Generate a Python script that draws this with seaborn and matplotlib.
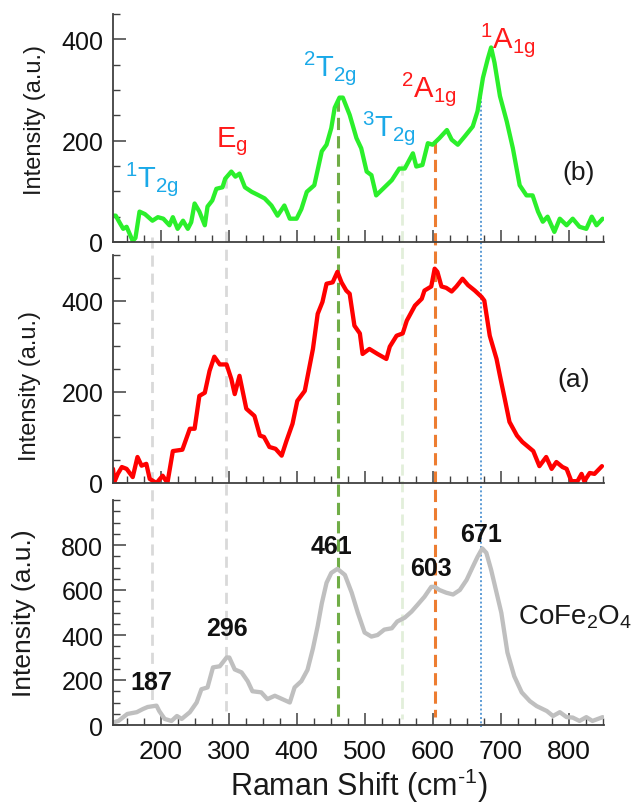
import numpy as np
import pandas as pd
import matplotlib
matplotlib.use("Agg")
import matplotlib.pyplot as plt
import seaborn as sns

# ---------------- data ----------------
b_x = [130,134,139,145,150,159,163,169,177,188,196,204,213,218,225,233,240,245,250,257,265,269,276,282,291,295,304,310,316,324,334,343,353,363,372,382,390,400,407,415,426,437,444,451,456,463,468,478,488,495,503,510,517,527,540,551,559,571,576,585,593,600,610,621,628,637,647,659,666,674,681,686,691,699,709,718,728,738,747,755,762,769,779,787,797,806,816,826,834,841,850]
b_y = [52,52,40,26,30,2,8,60,55,42,49,46,33,49,26,42,26,39,76,60,33,70,82,105,108,125,139,129,135,108,99,93,86,72,52,72,46,46,65,99,112,179,192,225,265,285,285,251,205,185,139,132,92,105,122,145,145,175,149,152,195,192,205,221,202,192,208,228,258,324,361,384,354,288,238,185,112,92,92,60,40,50,20,46,33,46,30,26,50,33,46]

a_x = [130,132,137,143,150,159,166,172,179,184,194,203,210,218,232,243,250,257,265,272,279,287,297,304,309,316,326,338,346,352,360,369,378,385,394,401,412,424,431,438,444,453,460,466,473,478,485,493,497,507,519,532,537,547,556,562,574,584,588,598,603,607,613,620,628,635,644,652,662,672,676,684,694,699,706,713,724,732,748,757,767,775,782,791,797,804,813,819,823,831,838,849]
a_y = [31,2,20,35,31,13,57,38,42,9,0,16,0,70,73,119,119,191,198,246,277,260,260,228,195,235,163,147,104,101,79,75,60,92,130,180,202,294,371,397,437,440,463,440,422,415,345,328,283,294,283,272,299,323,328,356,389,404,422,431,470,463,431,428,420,431,448,434,422,408,400,323,272,235,185,134,104,90,70,37,57,31,46,35,31,4,4,20,4,22,20,37]

c_x = [132,138,151,165,174,181,194,198,206,216,224,231,243,253,260,269,277,287,297,301,309,319,328,335,348,357,368,379,390,397,407,416,424,431,437,444,451,460,471,481,490,500,510,519,529,540,548,559,569,578,588,598,603,610,620,630,640,650,659,666,673,679,686,694,701,710,720,731,743,753,768,777,787,797,806,816,826,835,843,850]
c_y = [13,18,49,57,71,80,86,62,27,18,40,27,57,100,159,167,256,261,300,300,247,234,195,150,145,115,130,115,100,167,195,245,340,440,540,632,676,694,667,588,499,411,393,400,424,430,460,477,504,535,570,614,614,600,588,580,600,645,703,747,785,765,690,588,499,322,217,145,106,84,62,40,57,35,33,18,35,18,27,35]

# peak labels of CoFe2O4
peak_text = ["187", "296", "461", "603", "671"]
peak_lx = [187, 297, 451, 598, 671]
peak_ly = [190, 433, 796, 698, 849]

# mode labels of panel (b)
mode_text = [r"$\mathregular{^{1}T_{2g}}$", r"$\mathregular{E_{g}}$", r"$\mathregular{^{2}T_{2g}}$",
             r"$\mathregular{^{3}T_{2g}}$", r"$\mathregular{^{2}A_{1g}}$", r"$\mathregular{^{1}A_{1g}}$"]
mode_x = [147, 282, 409, 496, 554, 669]
mode_y = [111, 189, 330, 211, 288, 384]
mode_col = ["#1aa9e8", "#ff1a1a", "#1aa9e8", "#1aa9e8", "#ff1a1a", "#ff1a1a"]

# guide lines (Raman shift positions)
guide_x = [187, 296, 461, 555, 603, 671]

# ---------------- style ----------------
sns.set_theme(style="ticks")
plt.rcParams["font.family"] = ["Liberation Sans", "DejaVu Sans"]
plt.rcParams["mathtext.fontset"] = "custom"
plt.rcParams["mathtext.rm"] = "Liberation Sans"
plt.rcParams["mathtext.it"] = "Liberation Sans:italic"
plt.rcParams["mathtext.bf"] = "Liberation Sans:bold"

W, H = 634, 804
fig = plt.figure(figsize=(W / 100, H / 100), dpi=100)

L, R = 113, 604
def ax_rect(top, bot):
    return [L / W, 1 - bot / H, (R - L) / W, (bot - top) / H]

XL = (130, 852)

# overlay for guide lines (behind the curves)
ov = fig.add_axes([L / W, 0, (R - L) / W, 1], zorder=0)
ov.set_xlim(*XL)
ov.set_ylim(H, 0)
ov.axis("off")
guide_top = [238, 178, 100, 165, 142, 85]
guide_bot = [706, 712, 720, 720, 718, 728]
guide_col = ["#d9d9d9", "#d9d9d9", "#70ad47", "#e2efda", "#ed7d31", "#5b9bd5"]
guide_ls = [(0, (4, 2.5)), (0, (4, 2.5)), (0, (4, 2)), (0, (4, 2)), (0, (4, 2)), (0, (1, 1.2))]
guide_lw = [2, 2, 2.2, 2, 2.2, 1.4]
for gx, t, b, c, ls, lw in zip(guide_x, guide_top, guide_bot, guide_col, guide_ls, guide_lw):
    ov.plot([gx, gx], [t, b], color=c, ls=ls, lw=lw)

axes = []
specs = [
    (15, 243, b_x, b_y, "#2bef2b", (0, 450), [0, 200, 400], 17, -0.136, 0.54),
    (256, 484, a_x, a_y, "#ff0000", (0, 500), [0, 200, 400], 17, -0.147, 0.43),
    (501, 726, c_x, c_y, "#bfbfbf", (0, 1000), [0, 200, 400, 600, 800], 19, -0.157, 0.5),
]
for top, bot, xs, ys, col, yl, yt, lfs, lx, ly in specs:
    ax = fig.add_axes(ax_rect(top, bot), zorder=1)
    ax.patch.set_alpha(0)
    df = pd.DataFrame({"x": xs, "y": ys})
    sns.lineplot(data=df, x="x", y="y", ax=ax, color=col, lw=3.1, estimator=None)
    ax.set_xlim(*XL)
    ax.set_ylim(*yl)
    ax.set_yticks(yt)
    ax.set_yticks(np.arange(yl[0], yl[1] + 1, 50), minor=True)
    ax.set_xticks(np.arange(200, 801, 100))
    ax.set_xticks(np.arange(150, 851, 25), minor=True)
    for s in ["top", "right"]:
        ax.spines[s].set_visible(False)
    for s in ["left", "bottom"]:
        ax.spines[s].set_color("#404040")
        ax.spines[s].set_linewidth(1.3)
    ax.tick_params(which="major", direction="in", length=9, width=1.1, color="#404040",
                   labelsize=18, pad=7, labelcolor="#111111")
    ax.tick_params(which="minor", direction="in", length=5, width=1.0, color="#404040")
    ax.set_ylabel("Intensity (a.u.)", fontsize=lfs, color="#1a1a1a")
    ax.yaxis.set_label_coords(lx, ly)
    ax.set_xlabel("")
    axes.append(ax)

axb, axa, axc = axes
axb.tick_params(axis="x", labelbottom=False)
axa.tick_params(axis="x", labelbottom=False)
axc.tick_params(axis="x", labelsize=19, pad=10)
axc.set_xlabel("Raman Shift (cm$\\mathregular{^{\\text{-}1}}$)", fontsize=22, color="#1a1a1a", labelpad=2)

for t, x, y, c in zip(mode_text, mode_x, mode_y, mode_col):
    axb.text(x, y, t, color=c, fontsize=21, ha="left", va="baseline", clip_on=False)
axb.text(791, 139, "(b)", fontsize=19, ha="left", va="center", color="#1a1a1a")
axa.text(784, 229, "(a)", fontsize=19, ha="left", va="center", color="#1a1a1a")

for t, x, y in zip(peak_text, peak_lx, peak_ly):
    axc.text(x, y, t, fontsize=18, fontweight="bold", ha="center", va="center", color="#111111")
axc.text(725, 482, r"CoFe$\mathregular{_2}$O$\mathregular{_4}$", fontsize=20, ha="left",
         va="center", color="#1a1a1a", clip_on=False)

fig.savefig("out.png", dpi=100)
